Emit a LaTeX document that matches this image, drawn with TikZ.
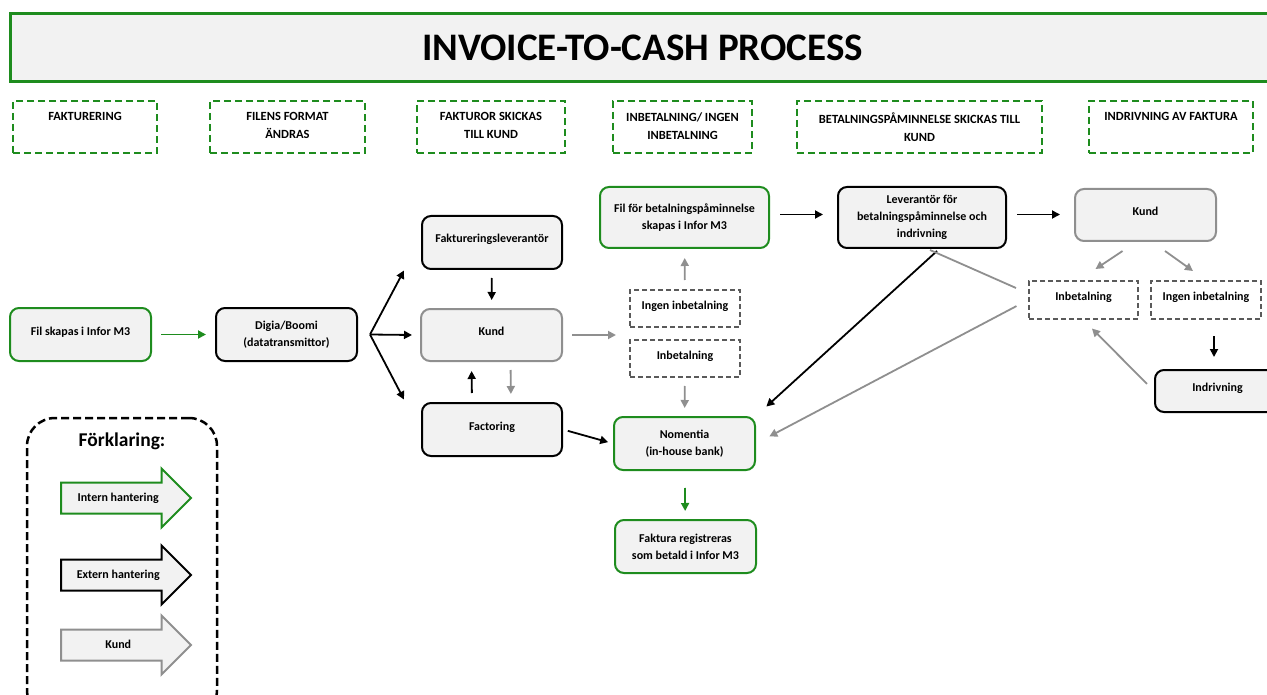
\documentclass[tikz,border=0pt]{standalone}
\usepackage{fontspec}
\setmainfont{Carlito}
\usetikzlibrary{arrows.meta,positioning,calc,shapes.arrows}
\definecolor{interngreen}{HTML}{1E8C1E}
\definecolor{boxfill}{HTML}{F2F2F2}
\definecolor{kundgray}{HTML}{8F8F8F}
\definecolor{stategray}{HTML}{5A5A5A}
\tikzset{
  process/.style={rectangle,rounded corners=9pt,draw=#1,fill=boxfill,line width=2pt,
    minimum width=141pt,minimum height=53pt,align=center,
    font=\fontsize{12}{17}\selectfont\bfseries},
  process/.default=black,
  oneline/.style={text height=9pt,text depth=8pt},
  statebox/.style={rectangle,draw=stategray,dash pattern=on 5pt off 3pt,fill=white,
    line width=2pt,minimum width=110pt,minimum height=37pt,oneline,
    font=\fontsize{12}{17}\selectfont\bfseries},
  phase/.style={rectangle,draw=interngreen,dash pattern=on 7pt off 4pt,line width=2pt,
    minimum height=52pt},
  phasetext/.style={anchor=north,yshift=-9pt,align=center,
    font=\fontsize{12.5}{18}\selectfont\bfseries},
  myarrow/.style={-{Triangle[length=8pt,width=8pt]},line width=1.8pt,#1},
  myarrow/.default=black,
  gap/.style={shorten <=#1,shorten >=#1},
  legendarrow/.style={single arrow,draw=#1,fill=boxfill,line width=2pt,
    single arrow head extend=14pt,minimum height=130pt,anchor=tail,
    text height=9pt,text depth=3pt,inner ysep=8.5pt,
    font=\fontsize{12}{14}\selectfont\bfseries},
}

\begin{document}
\begin{tikzpicture}[x=1pt,y=-1pt]
  \useasboundingbox (0,0) rectangle (1267,695);
  % title
  \node[rectangle,draw=interngreen,fill=boxfill,line width=3pt,minimum width=1265pt,
    minimum height=68pt,font=\fontsize{39}{44}\selectfont\bfseries] (title) at (642.5,48)
    {INVOICE-TO-CASH PROCESS};
  % phases
  \node[phase,minimum width=144pt,label={[phasetext]north:FAKTURERING}] (ph1) at (85,127) {};
  \node[phase,minimum width=155pt,label={[phasetext]north:{FILENS FORMAT\\ÄNDRAS}}] (ph2) at (287.5,127) {};
  \node[phase,minimum width=148pt,label={[phasetext]north:{FAKTUROR SKICKAS\\TILL KUND}}] (ph3) at (491,127) {};
  \node[phase,minimum width=139pt,label={[phasetext]north:{INBETALNING/ INGEN\\INBETALNING}}] (ph4) at (682.5,127) {};
  \node[phase,minimum width=245pt,label={[phasetext]north:{BETALNINGSPÅMINNELSE SKICKAS TILL\\KUND}}] (ph5) at (919.5,127) {};
  \node[phase,minimum width=164pt,label={[phasetext]north:{INDRIVNING AV FAKTURA}}] (ph6) at (1171,127) {};

  % process boxes
  \node[process=interngreen,oneline] (fil) at (80.5,334.5) {Fil skapas i Infor M3};
  \node[process] (digia) at (286.5,334.5) {Digia/Boomi\\(datatransmittor)};
  \node[process,oneline,minimum width=140pt] (fakt) at (492,242.5) {Faktureringsleverantör};
  \node[process=kundgray,oneline,minimum height=52pt] (kund) at (491.5,335) {Kund};
  \node[process,oneline,minimum width=140pt] (factoring) at (492,429.5) {Factoring};
  \node[statebox] (ingen) at (685,308.5) {Ingen inbetalning};
  \node[statebox] (inbet) at (685,358.5) {Inbetalning};
  \node[process=interngreen,minimum width=169pt,minimum height=61pt] (filbet) at (684.5,217.5)
    {Fil för betalningspåminnelse\\skapas i Infor M3};
  \node[process=interngreen] (nomentia) at (684.5,443.5) {Nomentia\\(in-house bank)};
  \node[process=interngreen] (faktreg) at (685.5,546.5) {Faktura registreras\\som betald i Infor M3};
  \node[process,minimum width=168pt,minimum height=61pt] (lev) at (922,217.5)
    {Leverantör för\\betalningspåminnelse och\\indrivning};
  \node[process=kundgray,oneline,minimum height=52pt] (kund2) at (1145.5,215) {Kund};
  \node[statebox,minimum width=109pt,minimum height=38pt] (inbet2) at (1083.5,300) {Inbetalning};
  \node[statebox,minimum height=38pt] (ingen2) at (1206,300) {Ingen inbetalning};
  \node[process,oneline,minimum width=125pt,minimum height=42pt] (indriv) at (1217.5,391) {Indrivning};

  % connectors
  \coordinate (split) at ($(digia.east)+(12,0)$);
  \draw[myarrow=interngreen,gap=9pt] (fil) -- (digia);
  \draw[myarrow] (split) -- ($(fakt.west)+(-17,28)$);
  \draw[myarrow] (split) -- ($(kund.west)+(-8,0)$);
  \draw[myarrow] (split) -- ($(factoring.west)+(-17,-30)$);
  \draw[myarrow,gap=8pt] (fakt) -- (kund);
  \draw[myarrow,gap=9pt] ([xshift=-20pt]factoring.north) -- ([xshift=-20pt]kund.south);
  \draw[myarrow=kundgray,gap=8pt] ([xshift=19pt]kund.south) -- ([xshift=19pt]factoring.north);
  \draw[myarrow=kundgray,shorten <=9pt,shorten >=13pt] (kund.east) -- (kund.east -| ingen.west);
  \draw[myarrow=kundgray,gap=9pt] (ingen) -- (filbet);
  \draw[myarrow=kundgray,gap=8pt] (inbet) -- (nomentia);
  \draw[myarrow=interngreen,shorten <=17pt,shorten >=8pt] (nomentia) -- (faktreg);
  \draw[myarrow,shorten <=5pt,shorten >=5pt] (factoring.east) -- (nomentia.west);
  \draw[myarrow,shorten <=10pt,shorten >=14pt] ([yshift=3pt]filbet.east) -- ([yshift=3pt]lev.west);
  \draw[myarrow,shorten <=10pt,shorten >=14pt] ([yshift=3pt]lev.east) -- ([yshift=3pt]lev.east -| kund2.west);
  \draw[myarrow=kundgray] ($(kund2.south)+(-23,9)$) -- ($(inbet2.north)+(12,-11)$);
  \draw[myarrow=kundgray] ($(kund2.south)+(19.5,9)$) -- ($(ingen2.north)+(-13,-9)$);
  \draw[myarrow,shorten <=16pt,shorten >=12pt] ([xshift=8pt]ingen2.south) -- ([xshift=-3.5pt]indriv.north);
  \draw[myarrow=kundgray,shorten <=10pt,shorten >=12pt] (indriv.west) -- (inbet2.south);
  \draw[myarrow,shorten >=14pt] ($(lev.south)+(15,2)$) -- (nomentia.north east);
  \draw[myarrow=kundgray,shorten <=13pt,shorten >=15pt] (inbet2.west) -- (nomentia.east);
  \draw[kundgray,line width=1.8pt] ($(lev.south)+(8,1)$) -- ($(inbet2.west)+(-12,-12)$);

  % legend
  \node[rectangle,draw=black,dash pattern=on 8pt off 4pt,line width=2.5pt,rounded corners=28pt,
    minimum width=190pt,minimum height=300pt,
    label={[anchor=north,yshift=-13pt,font=\fontsize{19.5}{22}\selectfont\bfseries]north:{Förklaring:}}]
    (legend) at (122,568) {};
  \node[legendarrow=interngreen] (legint) at (60,498) {Intern hantering};
  \node[legendarrow=black] (legext) at (60,575) {Extern hantering};
  \node[legendarrow=kundgray] (legkund) at (60,645) {Kund};
\end{tikzpicture}
\end{document}
